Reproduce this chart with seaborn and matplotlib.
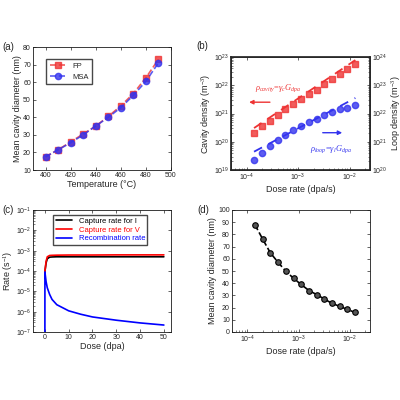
import numpy as np
import matplotlib
matplotlib.use("Agg")
import matplotlib.pyplot as plt
import seaborn as sns
import pandas as pd

sns.set_theme(style="ticks")
plt.rcParams['font.family'] = ['Liberation Sans', 'DejaVu Sans']
plt.rcParams['mathtext.fontset'] = 'custom'
plt.rcParams['mathtext.rm'] = 'Liberation Serif'
plt.rcParams['mathtext.it'] = 'Liberation Serif:italic'
plt.rcParams['xtick.direction'] = 'in'
plt.rcParams['ytick.direction'] = 'in'
plt.rcParams['xtick.minor.size'] = 1.2
plt.rcParams['ytick.minor.size'] = 1.2
plt.rcParams['xtick.minor.width'] = 0.4
plt.rcParams['ytick.minor.width'] = 0.4
plt.rcParams['font.size'] = 6

# (a)
temps = [400, 410, 420, 430, 440, 450, 460, 470, 480, 490]
fp = [17.5, 21.5, 26, 30.5, 35, 40.5, 46.5, 53.5, 62.5, 73]
msa = [17.5, 21.5, 25.5, 30, 35, 40, 45.5, 52.5, 60.5, 71]
# (b)
rates = [1.4e-4, 2e-4, 2.8e-4, 4e-4, 5.6e-4, 8e-4, 1.12e-3, 1.6e-3, 2.3e-3,
         3.2e-3, 4.5e-3, 6.4e-3, 9e-3, 1.28e-2]
cavity = [2e20, 3.5e20, 5.5e20, 9e20, 1.4e21, 2.1e21, 3.2e21, 4.8e21, 7e21,
          1.1e22, 1.6e22, 2.5e22, 3.7e22, 5.5e22]
loop = [2.2e20, 4e20, 7e20, 1.2e21, 1.8e21, 2.6e21, 3.7e21, 5e21, 6.5e21,
        8.5e21, 1.1e22, 1.4e22, 1.6e22, 2e22]
# (c)
dose = [0, 0.01, 0.5, 1, 2, 3, 5, 10, 15, 20, 30, 40, 50]
cap_i = [9e-5, 9.5e-5, 2.5e-4, 4e-4, 4.8e-4, 4.9e-4, 5e-4, 5e-4, 5e-4, 5e-4, 5e-4, 5e-4, 5e-4]
cap_v = [9e-5, 9.5e-5, 3e-4, 5e-4, 5.8e-4, 5.9e-4, 6e-4, 6.1e-4, 6.1e-4, 6.1e-4, 6.2e-4, 6.2e-4, 6.2e-4]
recomb = [1e-7, 9e-5, 3e-5, 1.5e-5, 7e-6, 4e-6, 2.2e-6, 1.1e-6, 7.5e-7, 5.5e-7, 3.8e-7, 2.8e-7, 2.2e-7]
# (d)
diam = [88, 76, 65, 57, 50, 44, 39, 34, 30.5, 27, 23.5, 21, 18.5, 16]

fig = plt.figure(figsize=(4, 4), dpi=100)
def ax_px(l, t, r, b):
    return fig.add_axes([l/400, 1-b/400, (r-l)/400, (b-t)/400])

axa = ax_px(33, 47, 171, 170)
axb = ax_px(231, 57, 370, 170)
axc = ax_px(33, 210, 171, 332)
axd = ax_px(232, 210, 370, 332)

LS = 6.5
for ax in (axa, axb, axc, axd):
    for s in ax.spines.values():
        s.set_linewidth(0.6); s.set_color('k')
    ax.tick_params(labelsize=5, width=0.5, length=2, top=True, right=True, pad=1.5)

# (a)
axa.plot(temps, fp, '--s', color='#ee3333', ms=4, lw=1.2, alpha=0.8, label='FP')
axa.plot(temps, msa, '--o', color='#3333ee', ms=4.5, lw=1.2, alpha=0.8, label='MSA')
axa.set_xlim(390, 500); axa.set_ylim(10, 80)
axa.set_xticks(range(400, 501, 20)); axa.set_yticks(range(10, 81, 10))
axa.set_xlabel('Temperature (°C)', fontsize=LS, labelpad=1)
axa.set_ylabel('Mean cavity diameter (nm)', fontsize=LS, labelpad=1)
axa.legend(loc='upper left', fontsize=5.5, frameon=True, fancybox=False, edgecolor='k',
           borderpad=0.4, handlelength=2.2, bbox_to_anchor=(0.07, 0.93))
axa.text(-0.22, 1.0, '(a)', transform=axa.transAxes, fontsize=7, va='center')

# (b)
lr = np.log10(rates)
pc = np.polyfit(lr, np.log10(cavity), 1)
pl = np.polyfit(lr, np.log10(loop), 1)
xs = np.logspace(np.log10(1.4e-4), np.log10(1.3e-2), 50)
axb.set_xscale('log'); axb.set_yscale('log')
axb.plot(rates, cavity, 's', color='#ee3333', ms=4, alpha=0.8)
axb.plot(xs, 10**np.polyval(pc, np.log10(xs)) * 1.3, '--', color='#ee3333', lw=1.3, dashes=(5, 4))
axb.set_xlim(5e-5, 2.5e-2); axb.set_ylim(1e19, 1e23)
axb2 = axb.twinx()
axb2.set_yscale('log')
axb2.plot(rates, loop, 'o', color='#3333ee', ms=4.5, alpha=0.8)
axb2.plot(xs, 10**np.polyval(pl, np.log10(xs)) * 1.2, '--', color='#3333ee', lw=1.3, dashes=(5, 4))
axb2.set_ylim(1e20, 1e24)
axb2.tick_params(labelsize=5, width=0.5, length=2, direction='in', pad=1.5)
axb.tick_params(right=False)
axb.set_xlabel('Dose rate (dpa/s)', fontsize=LS, labelpad=1)
axb.set_ylabel('Cavity density (m$^{-3}$)', fontsize=LS, labelpad=1)
axb2.set_ylabel('Loop density (m$^{-3}$)', fontsize=LS, labelpad=1)
axb.text(0.17, 0.71, r'$\rho_{cavity}\!=\!\gamma_c G_{dpa}$', transform=axb.transAxes, color='#ee3333', fontsize=6)
axb.text(0.57, 0.17, r'$\rho_{loop}\!=\!\gamma_l G_{dpa}$', transform=axb.transAxes, color='#3333ee', fontsize=6)
axb.annotate('', xy=(0.11, 0.60), xytext=(0.30, 0.60), xycoords='axes fraction',
             arrowprops=dict(arrowstyle='-|>', color='#ee3333', lw=1))
axb.annotate('', xy=(0.82, 0.33), xytext=(0.64, 0.33), xycoords='axes fraction',
             arrowprops=dict(arrowstyle='-|>', color='#3333ee', lw=1))
axb.text(-0.25, 1.1, '(b)', transform=axb.transAxes, fontsize=7, va='center')

# (c)
axc.set_yscale('log')
axc.plot(dose, cap_i, color='black', lw=1.2, label='Capture rate for I')
axc.plot(dose, cap_v, color='red', lw=1.2, label='Capture rate for V')
axc.plot(dose, recomb, color='blue', lw=1.2, label='Recombination rate')
axc.set_xlim(-5, 53); axc.set_ylim(1e-7, 1e-1)
axc.set_xticks(range(0, 51, 10))
axc.set_xlabel('Dose (dpa)', fontsize=LS, labelpad=1)
axc.set_ylabel('Rate (s$^{-1}$)', fontsize=LS, labelpad=1)
leg = axc.legend(loc='upper left', fontsize=5.5, frameon=True, fancybox=False, edgecolor='k',
                 borderpad=0.3, handlelength=2.2, labelspacing=0.2, bbox_to_anchor=(0.12, 0.99))
for t, c in zip(leg.get_texts(), ['black', 'red', 'blue']):
    t.set_color(c)
axc.text(-0.22, 1.0, '(c)', transform=axc.transAxes, fontsize=7, va='center')

# (d)
df = pd.DataFrame({'rate': rates, 'diam': diam})
axd.set_xscale('log')
sns.lineplot(data=df, x='rate', y='diam', ax=axd, color='black', lw=1.2, linestyle='--')
axd.plot(rates, diam, 'o', color='#555555', mec='black', ms=4, mew=0.8)
axd.set_xlim(5e-5, 2.5e-2); axd.set_ylim(0, 100)
axd.set_yticks(range(0, 101, 10))
axd.set_xlabel('Dose rate (dpa/s)', fontsize=LS, labelpad=1)
axd.set_ylabel('Mean cavity diameter (nm)', fontsize=LS, labelpad=1)
axd.text(-0.25, 1.0, '(d)', transform=axd.transAxes, fontsize=7, va='center')

fig.savefig('out.png', dpi=100)
